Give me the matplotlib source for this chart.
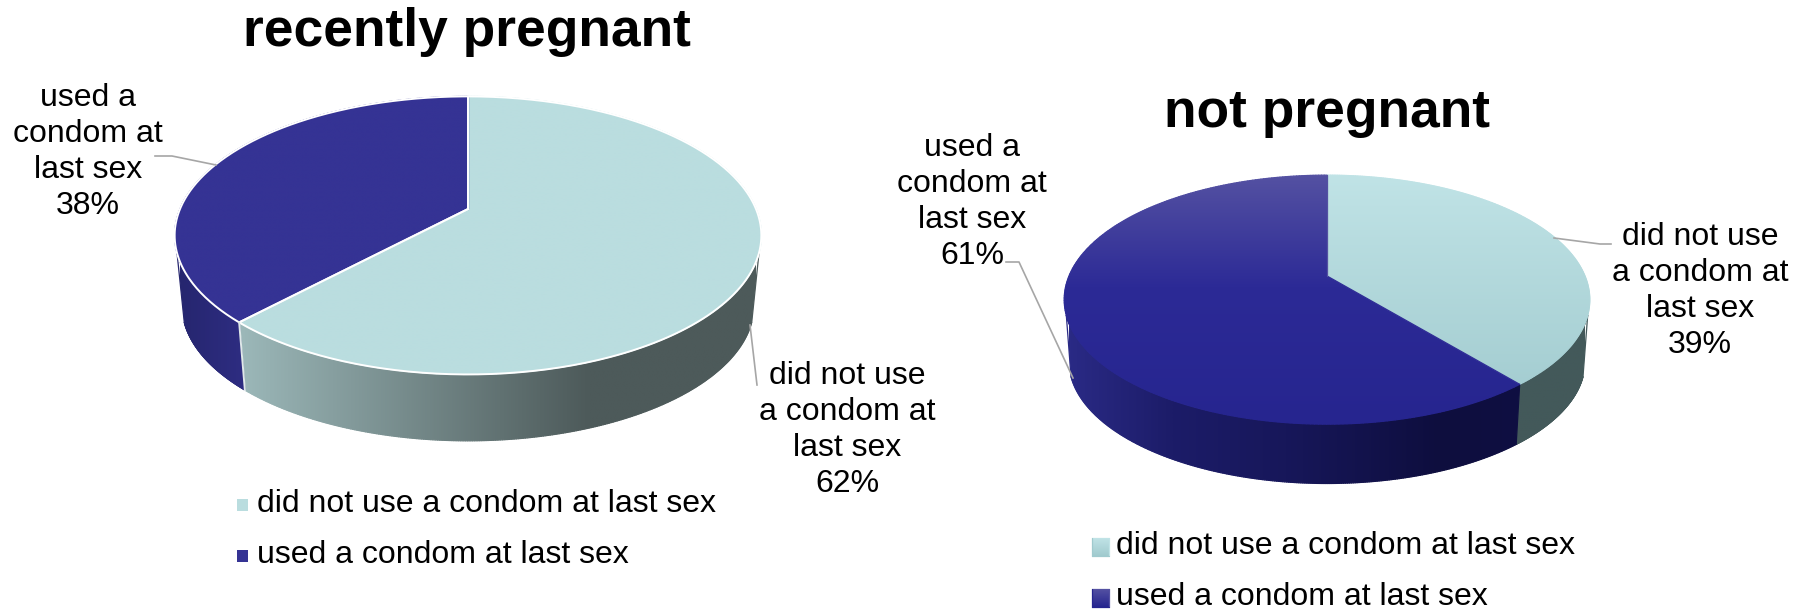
#!/usr/bin/env python3
import matplotlib
matplotlib.use("Agg")
import matplotlib.pyplot as plt
import numpy as np
from matplotlib.collections import LineCollection
from matplotlib.colors import LinearSegmentedColormap
from matplotlib.patches import Polygon

plt.rcParams['font.family'] = ['Liberation Sans', 'DejaVu Sans']

categories = ["did not use a condom at last sex", "used a condom at last sex"]
label_lines = ["did not use\na condom at\nlast sex", "used a\ncondom at\nlast sex"]
pregnant_vals = [62, 38]
not_pregnant_vals = [39, 61]
titles = ["recently pregnant", "not pregnant"]

W, H = 1799, 609
TILT = 0.19


def project(theta, geo, lower=False):
    # theta runs clockwise from 12 o'clock, tilted disc with a bit of perspective
    u, v = np.sin(theta), np.cos(theta)
    w = 1 + TILT * v
    s, dy = (geo["s"], geo["depth"]) if lower else (1.0, 0.0)
    x = geo["cx"] + s * geo["a"] * u / w
    y = geo["cy"] + dy - s * geo["r"] * v / w
    return x, y


def gradient_fill(ax, xs, ys, stops, zorder, horizontal=False, span=None):
    cmap = LinearSegmentedColormap.from_list("g", stops)
    x0, x1 = min(xs), max(xs)
    y0, y1 = min(ys), max(ys)
    g0, g1 = span if span else ((x0, x1) if horizontal else (y0, y1))
    ramp = np.linspace(0, 1, 512)
    img = ramp[None, :] if horizontal else ramp[:, None]
    extent = (g0, g1, y1, y0) if horizontal else (x0, x1, g1, g0)
    im = ax.imshow(img, cmap=cmap, aspect="auto", extent=extent, zorder=zorder,
                   interpolation="bilinear")
    clip = Polygon(np.column_stack([xs, ys]), transform=ax.transData, fc="none", ec="none")
    ax.add_patch(clip)
    im.set_clip_path(clip)

    # clip paths come out jagged, so run a thin line of the same colours along the edge
    t = (np.asarray(xs) - g0 if horizontal else np.asarray(ys) - g0) / (g1 - g0)
    pts = np.column_stack([xs, ys])
    segs = np.stack([pts[:-1], pts[1:]], axis=1)
    ax.add_collection(LineCollection(segs, colors=cmap(np.clip(t[:-1], 0, 1)),
                                     linewidths=0.9, zorder=zorder, capstyle="round"))


def draw_pie(ax, vals, geo):
    fracs = np.array(vals) / sum(vals)
    edges = 2 * np.pi * np.concatenate([[0], np.cumsum(fracs)])
    span = (geo["cx"] - geo["a"], geo["cx"] + geo["a"])

    # only the front part of the wall can be seen, it starts where the rim turns away
    lo, hi = np.radians(108), np.radians(252)
    for k in range(len(vals)):
        a, b = max(edges[k], lo), min(edges[k + 1], hi)
        if a >= b:
            continue
        th = np.linspace(a, b, 300)
        tx, ty = project(th, geo)
        bx, by = project(th, geo, lower=True)
        xs = np.concatenate([tx, bx[::-1], tx[:1]])
        ys = np.concatenate([ty, by[::-1], ty[:1]])
        gradient_fill(ax, xs, ys, geo["wall"][k], 2 + k, horizontal=True, span=span)

    # the top faces go over all the walls
    for k in range(len(vals)):
        th = np.linspace(edges[k], edges[k + 1], 300)
        tx, ty = project(th, geo)
        xs = np.concatenate([[geo["cx"]], tx, [geo["cx"]]])
        ys = np.concatenate([[geo["cy"]], ty, [geo["cy"]]])
        gradient_fill(ax, xs, ys, geo["top"][k], 5, span=(geo["cy"] - geo["r"] / (1 + TILT),
                                                           geo["cy"] + geo["r"] / (1 - TILT)))
        if geo["edge"]:
            ax.plot(xs, ys, color="white", lw=geo["edge"], zorder=6, solid_joinstyle="round")

    # seam on the wall at the slice boundary
    if geo["edge"]:
        for e in edges[1:-1]:
            x1, y1 = project(e, geo)
            x2, y2 = project(e, geo, lower=True)
            ax.plot([x1, x2], [y1, y2], color="#dfe8e8", lw=geo["edge"], zorder=6)


fig = plt.figure(figsize=(W / 100, H / 100), dpi=100)
ax = fig.add_axes([0, 0, 1, 1])

left = dict(cx=468, cy=209, a=288, r=134, s=0.975, depth=70.5, edge=1.4,
            top=[["#badddf", "#badddf"], ["#353394", "#353394"]],
            wall=[[(0, "#a3c0c1"), (0.11, "#9bb7b8"), (0.71, "#4d5a5a"), (1, "#4d5a5a")],
                  [(0, "#26266f"), (0.11, "#2e2d82"), (1, "#2e2d82")]])
right = dict(cx=1327, cy=276, a=258, r=120, s=0.982, depth=62, edge=0.0,
             top=[["#c0e3e6", "#a0cace"], [(0, "#5451a2"), (0.45, "#2c2a96"), (1, "#26258f")]],
             wall=[["#43595a", "#43595a"],
                   [(0, "#2a2a85"), (0.2, "#1c1c68"), (0.42, "#17175a"),
                    (0.72, "#0e0e3e"), (1, "#0f0f45")]])

draw_pie(ax, pregnant_vals, left)
draw_pie(ax, not_pregnant_vals, right)

TITLE = 38.4
LABEL = 23
ax.text(467, 32, titles[0], fontsize=TITLE, fontweight="bold", ha="center", va="center")
ax.text(1327, 113, titles[1], fontsize=TITLE, fontweight="bold", ha="center", va="center")


def slice_label(x, y, idx, val):
    ax.text(x, y, f"{label_lines[idx]}\n{val}%", fontsize=LABEL, ha="center", va="center",
            linespacing=1.27, zorder=8)


slice_label(88, 152, 1, pregnant_vals[1])
slice_label(847, 430, 0, pregnant_vals[0])
slice_label(972, 202, 1, not_pregnant_vals[1])
slice_label(1700, 291, 0, not_pregnant_vals[0])

# leader lines
ax.plot([155, 172, 216], [156, 156, 165], color="#a6a6a6", lw=1.2, zorder=7)
ax.plot([750, 757], [325, 385], color="#a6a6a6", lw=1.2, zorder=7)
ax.plot([1554, 1600, 1611], [238, 244, 244], color="#a6a6a6", lw=1.2, zorder=7)
ax.plot([1006, 1019, 1073], [262, 262, 378], color="#a6a6a6", lw=1.2, zorder=7)

# legends
for y, c, col in [(505, categories[0], "#badddf"), (556, categories[1], "#353394")]:
    ax.fill([237, 248, 248, 237], [y - 6, y - 6, y + 6, y + 6], color=col, lw=0)
    ax.text(257, y - 1, c, fontsize=LABEL, va="center")
for y, c, cols in [(547, categories[0], ["#c0e3e6", "#a0cace"]),
                   (598, categories[1], ["#5451a2", "#26258f"])]:
    gradient_fill(ax, [1092, 1109, 1109, 1092, 1092], [y - 9, y - 9, y + 9, y + 9, y - 9], cols, 3)
    ax.text(1116, y - 1, c, fontsize=LABEL, va="center")

ax.set_xlim(0, W)
ax.set_ylim(H, 0)
ax.axis("off")
fig.savefig("out.png", dpi=100)
